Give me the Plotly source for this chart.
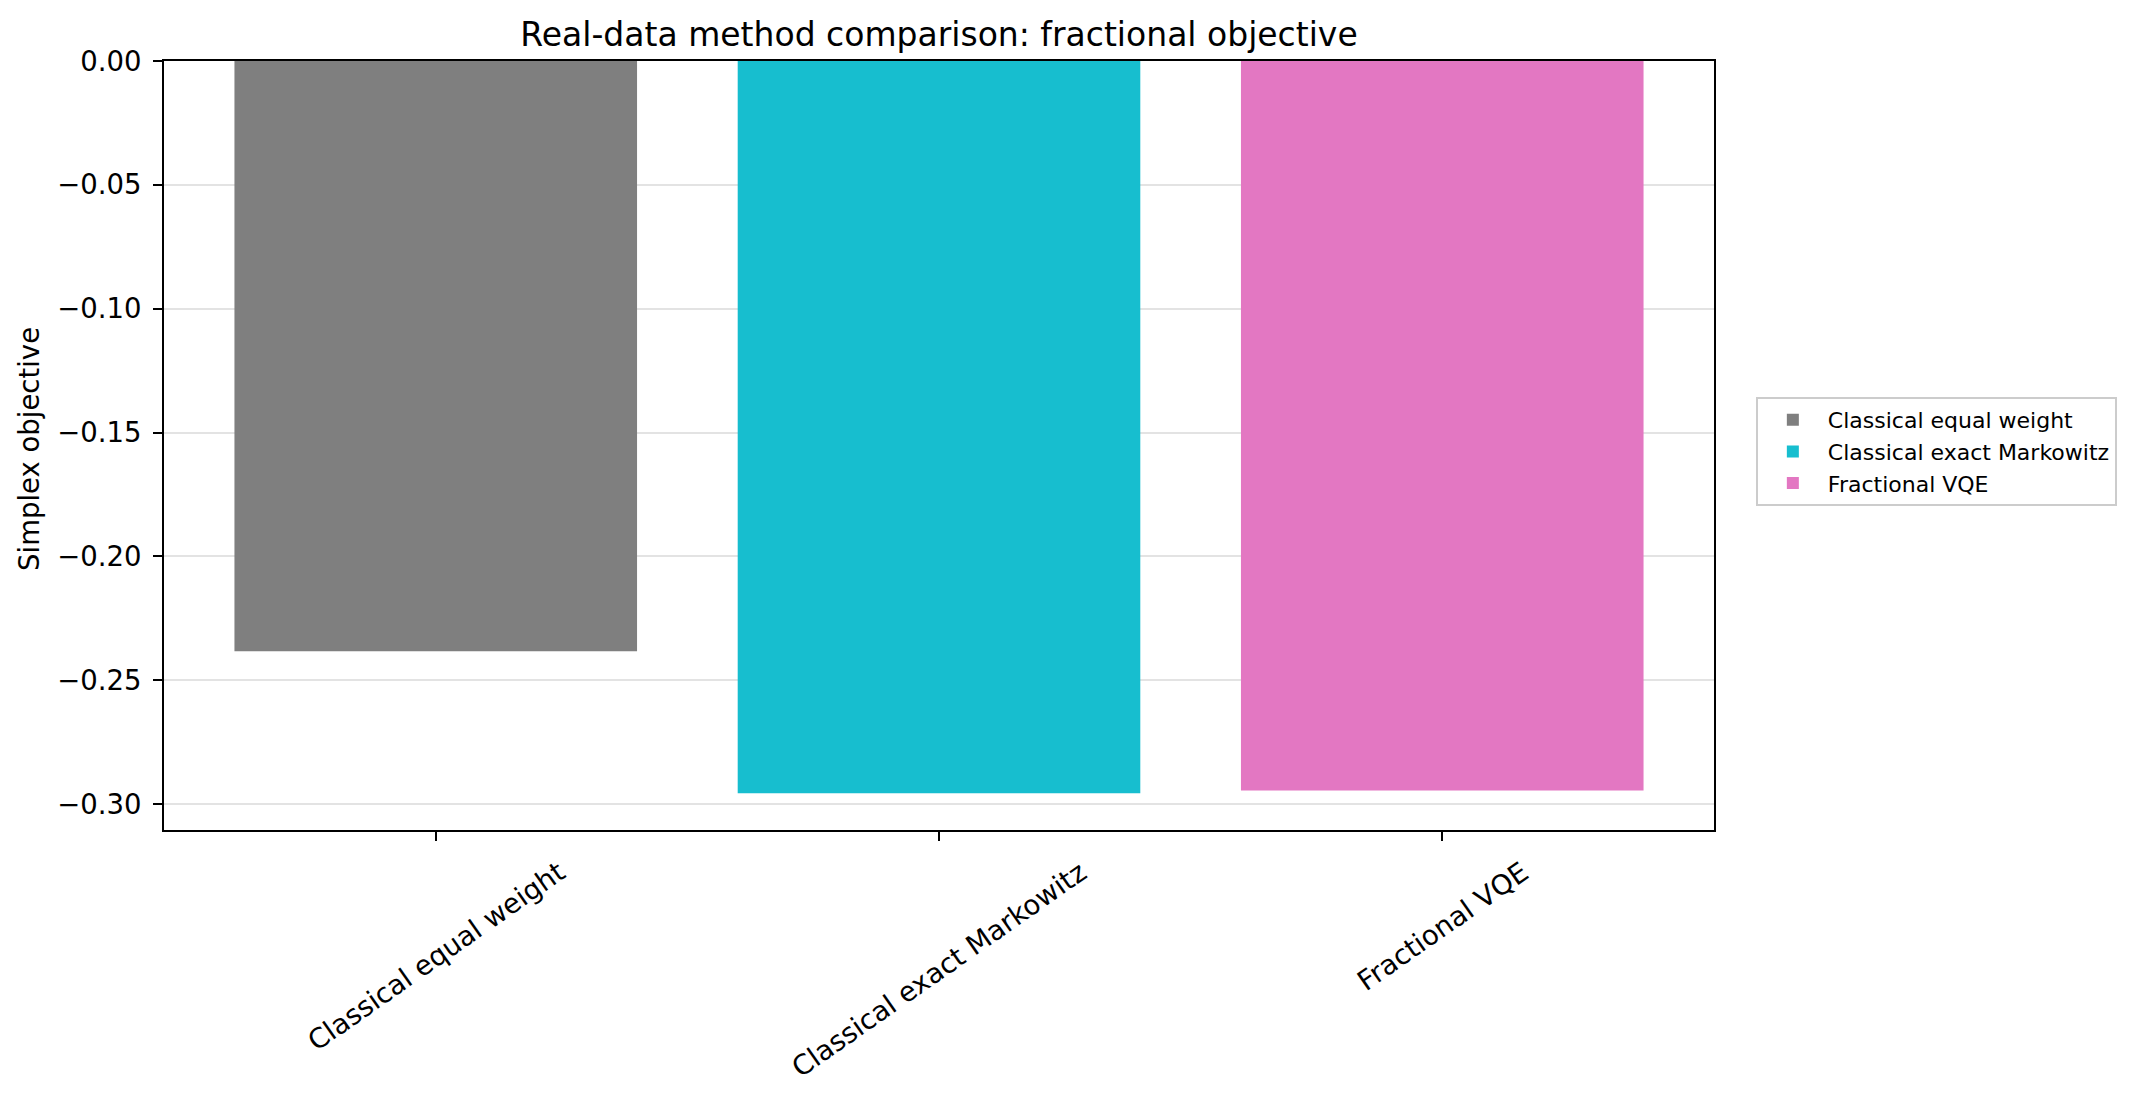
import plotly.graph_objects as go

categories = ["Classical equal weight", "Classical exact Markowitz", "Fractional VQE"]
objective_values = [-0.2383, -0.2957, -0.2946]
bar_colors = ["#7f7f7f", "#17becf", "#e377c2"]
y_tick_values = [0.0, -0.05, -0.10, -0.15, -0.20, -0.25, -0.30]
y_tick_labels = ["0.00", "\u22120.05", "\u22120.10", "\u22120.15", "\u22120.20", "\u22120.25", "\u22120.30"]
title_text = "Real-data method comparison: fractional objective"
y_label = "Simplex objective"

FONT = "DejaVu Sans"

fig = go.Figure()
for i, (cat, val, col) in enumerate(zip(categories, objective_values, bar_colors)):
    fig.add_trace(go.Bar(
        x=[i], y=[val], name=cat, marker=dict(color=col, line=dict(width=0)),
        width=0.8, legendgroup=f"g{i}",
    ))

annotations = []
for i, cat in enumerate(categories):
    annotations.append(dict(
        x=i, xref="x", y=-0.029, yref="paper", text=cat, showarrow=False,
        xanchor="center", yanchor="top", textangle=-35,
        font=dict(family=FONT, size=27.5, color="black"),
    ))
annotations.append(dict(
    x=-0.0875, xref="paper", y=0.496, yref="paper", text=y_label, showarrow=False,
    xanchor="center", yanchor="middle", textangle=-90,
    font=dict(family=FONT, size=27.5, color="black"),
))

fig.update_layout(
    width=2141, height=1098,
    margin=dict(l=164, r=427, t=61, b=268, pad=0),
    paper_bgcolor="white", plot_bgcolor="white",
    font=dict(family=FONT, color="black", size=27.5),
    title=dict(text=title_text, x=0.5, xref="paper", xanchor="center",
               y=1 - 34 / 1098, yref="container", yanchor="middle",
               font=dict(family=FONT, size=33, color="black")),
    bargap=0.2,
    showlegend=True,
    legend=dict(
        x=1.027, xanchor="left", y=0.563, yanchor="top",
        bordercolor="#cccccc", borderwidth=2, bgcolor="white",
        font=dict(family=FONT, size=22, color="black"),
        tracegroupgap=0, itemwidth=60,
    ),
    annotations=annotations,
)

fig.update_xaxes(
    range=[-0.54, 2.54], tickvals=[0, 1, 2], ticktext=["", "", ""],
    showline=True, linecolor="black", linewidth=2, mirror=True,
    ticks="outside", ticklen=9, tickwidth=2, tickcolor="black",
    showgrid=False, zeroline=False,
)
fig.update_yaxes(
    range=[-0.3105, 0.0], tickvals=y_tick_values, ticktext=y_tick_labels,
    showline=True, linecolor="black", linewidth=2, mirror=True,
    ticks="outside", ticklen=9, tickwidth=2, tickcolor="black",
    ticklabelstandoff=6,
    showgrid=True, gridcolor="#e3e3e3", gridwidth=2, zeroline=False,
    tickfont=dict(family=FONT, size=27.5, color="black"),
)

fig.write_html("out.html")
